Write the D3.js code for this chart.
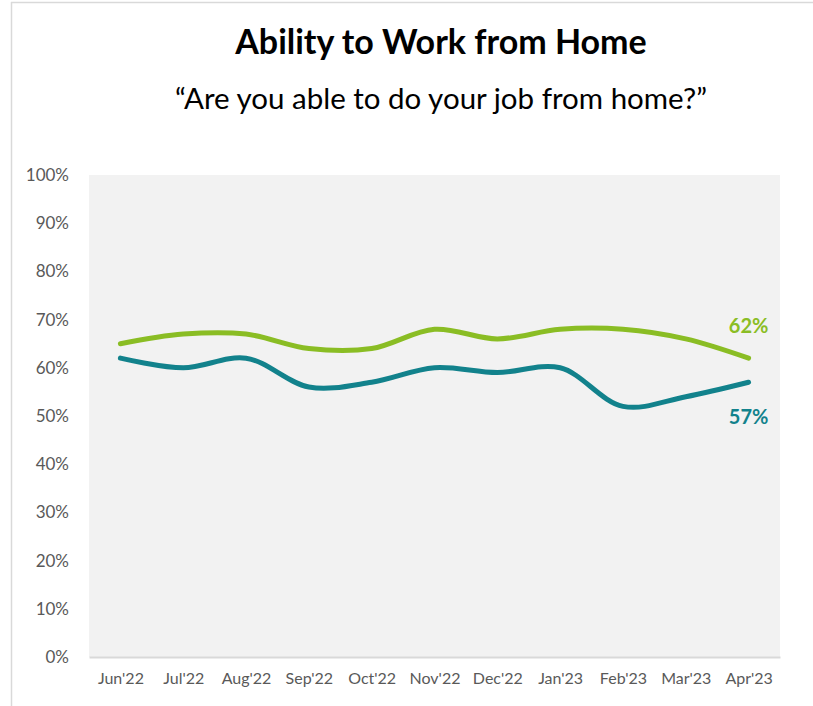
<!DOCTYPE html>
<html>
<head>
<meta charset="utf-8">
<script src="https://cdn.jsdelivr.net/npm/d3@7"></script>
<style>
  body { margin: 0; background: #fff; }
  svg { display: block; font-family: Lato, "Open Sans", sans-serif; }
</style>
</head>
<body>
<svg id="drawing_region"></svg>
<script>
const months = ["Jun'22", "Jul'22", "Aug'22", "Sep'22", "Oct'22", "Nov'22", "Dec'22", "Jan'23", "Feb'23", "Mar'23", "Apr'23"];
const greenValues = [65, 67, 67, 64, 64, 68, 66, 68, 68, 66, 62];
const tealValues = [62, 60, 62, 56, 57, 60, 59, 60, 52, 54, 57];
const yTicks = [0, 10, 20, 30, 40, 50, 60, 70, 80, 90, 100];

const config = {
    width: 813,
    height: 706,
    margin: {top: 175, right: 33, bottom: 49, left: 89}
};

const svg = d3.select('#drawing_region')
    .attr('width', config.width)
    .attr('height', config.height);

// frame lines top / left
svg.append('line')
    .attr('x1', 11).attr('x2', config.width)
    .attr('y1', 2.5).attr('y2', 2.5)
    .attr('stroke', '#d9d9d9').attr('stroke-width', 1.5);
svg.append('line')
    .attr('x1', 11.5).attr('x2', 11.5)
    .attr('y1', 2).attr('y2', config.height)
    .attr('stroke', '#d9d9d9').attr('stroke-width', 1.5);

svg.append('text')
    .attr('x', 441).attr('y', 54)
    .attr('text-anchor', 'middle')
    .attr('font-size', 34).attr('font-weight', 'bold')
    .attr('fill', '#000')
    .text('Ability to Work from Home');

svg.append('text')
    .attr('x', 441).attr('y', 109)
    .attr('text-anchor', 'middle')
    .attr('font-size', 29.5)
    .attr('fill', '#000')
    .text('\u201CAre you able to do your job from home?\u201D');

const inner_width = config.width - config.margin.left - config.margin.right;
const inner_height = config.height - config.margin.top - config.margin.bottom;

const chart = svg.append('g')
    .attr('transform', `translate(${config.margin.left}, ${config.margin.top})`);

chart.append('rect')
    .attr('width', inner_width)
    .attr('height', inner_height)
    .attr('fill', '#f2f2f2');

const xscale = d3.scalePoint()
    .domain(months)
    .range([0, inner_width])
    .padding(0.5);

const yscale = d3.scaleLinear()
    .domain([0, 100])
    .range([inner_height, 0]);

const xaxis = d3.axisBottom(xscale).tickSize(0).tickPadding(16);
const yaxis = d3.axisLeft(yscale).tickValues(yTicks).tickSize(0).tickPadding(20)
    .tickFormat(d => d + '%');

const xg = chart.append('g')
    .attr('transform', `translate(0, ${inner_height})`)
    .call(xaxis);
xg.select('.domain').attr('stroke', '#d9d9d9').attr('stroke-width', 2);
xg.selectAll('text').attr('font-size', 16).attr('fill', '#595959')
    .attr('font-family', 'Lato, sans-serif');

const yg = chart.append('g').call(yaxis);
yg.select('.domain').remove();
yg.selectAll('text').attr('font-size', 17).attr('fill', '#595959')
    .attr('font-family', 'Lato, sans-serif');

const line = d3.line()
    .x((d, i) => xscale(months[i]))
    .y(d => yscale(d))
    .curve(d3.curveCatmullRom.alpha(0.5));

chart.append('path')
    .datum(greenValues)
    .attr('d', line)
    .attr('fill', 'none')
    .attr('stroke', '#8abd24')
    .attr('stroke-width', 5)
    .attr('stroke-linecap', 'round');

chart.append('path')
    .datum(tealValues)
    .attr('d', line)
    .attr('fill', 'none')
    .attr('stroke', '#12828c')
    .attr('stroke-width', 5)
    .attr('stroke-linecap', 'round');

const last = months.length - 1;
chart.append('text')
    .attr('x', xscale(months[last]))
    .attr('y', yscale(greenValues[last]) - 25)
    .attr('text-anchor', 'middle')
    .attr('font-size', 20).attr('font-weight', 'bold')
    .attr('fill', '#8abd24')
    .text(greenValues[last] + '%');

chart.append('text')
    .attr('x', xscale(months[last]))
    .attr('y', yscale(tealValues[last]) + 42)
    .attr('text-anchor', 'middle')
    .attr('font-size', 20).attr('font-weight', 'bold')
    .attr('fill', '#12828c')
    .text(tealValues[last] + '%');
</script>
</body>
</html>
